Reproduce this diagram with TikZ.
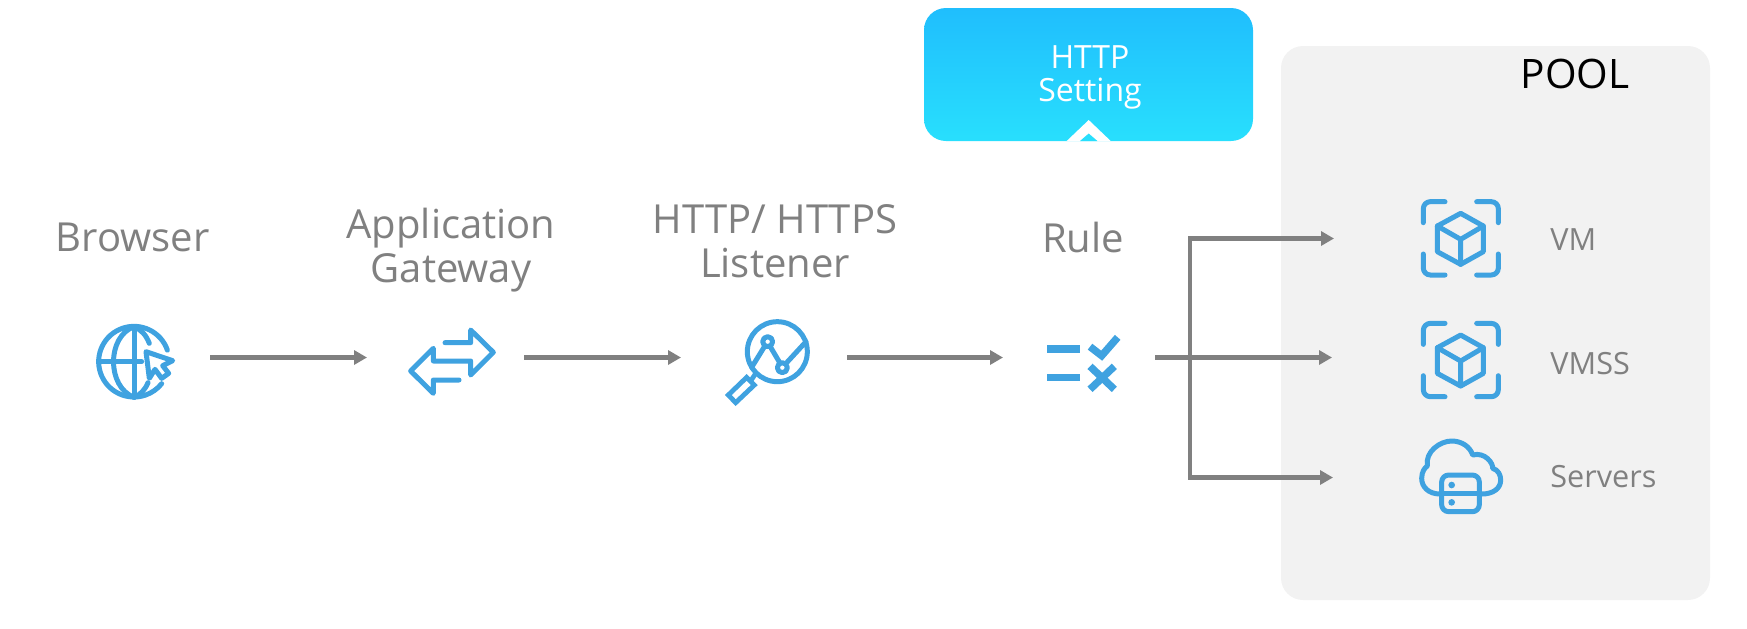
\documentclass[tikz,border=0pt]{standalone}
\usepackage{fontspec}
\setmainfont{Open Sans}
\usetikzlibrary{arrows.meta}
\definecolor{ink}{HTML}{808080}
\definecolor{ico}{HTML}{3FA2E0}
\definecolor{poolbg}{HTML}{F2F2F2}
\definecolor{topblue}{HTML}{20BEFD}
\definecolor{lowblue}{HTML}{28DFFD}
\tikzset{
  anchorbox/.style={inner sep=0pt,outer sep=0pt,minimum height=60pt,minimum width=#1},
  biglabel/.style={text=ink,font=\fontsize{20}{21.8}\selectfont,align=center,inner sep=0pt},
  smalllabel/.style={text=ink,font=\fontsize{15.3}{17}\selectfont,anchor=west,inner sep=0pt},
  flow/.style={draw=ink,line width=2.2pt,-{Triangle[length=6.5pt,width=7pt]}},
  iconline/.style={draw=ico,line width=2.5pt,line cap=round,line join=round},
  iconsharp/.style={draw=ico,line width=2.4pt,line cap=butt,line join=miter},
  iconbar/.style={draw=ico,line width=3.7pt,line cap=butt,line join=miter},
  zoomgrid/.style={shift={(#1)},x=0.16667pt,y=-0.16667pt},
}
\newcommand{\cubeicon}{%
  \draw[iconline,rounded corners=3.5pt] (130,128)--(130,65)--(195,65);
  \draw[iconline,rounded corners=3.5pt] (290,65)--(355,65)--(355,128);
  \draw[iconline,rounded corners=3.5pt] (130,222)--(130,285)--(195,285);
  \draw[iconline,rounded corners=3.5pt] (290,285)--(355,285)--(355,222);
  \draw[iconline] (242,100)--(310,138)--(310,215)--(242,253)--(172,215)--(172,138)--cycle;
  \draw[iconline] (172,138)--(242,178)--(310,138) (242,178)--(242,253);
}
\begin{document}
\begin{tikzpicture}[x=0.5pt,y=-0.5pt]
\useasboundingbox (0,0) rectangle (1747,628);
% pool panel
\node[fill=poolbg,rounded corners=11pt,inner sep=0pt,minimum width=214.5pt,minimum height=277pt] (pool) at (1495.5,323) {};
\node[inner sep=0pt,font=\fontsize{20.3}{22}\selectfont,text=black] (pooltitle) at (1575,73.5) {POOL};
% http setting box
\node[top color=topblue,bottom color=lowblue,rounded corners=11pt,inner sep=0pt,minimum width=164.5pt,minimum height=66.5pt] (setting) at (1088.5,74.5) {};
\node[inner sep=0pt,text=white,align=center,font=\fontsize{16}{16.5}\selectfont] (settingtext) at (1090,77.5) {HTTP\\Setting};
\fill[white] (1066.7,141)--(1088.7,120)--(1110.7,141)--cycle;
\fill[lowblue] (1080,141)--(1088.7,133.5)--(1097.4,141)--cycle;
% labels
\node[biglabel] (lbrowser) at (132.6,237) {Browser};
\node[biglabel] (lgateway) at (451,250) {Application\\Gateway};
\node[biglabel] (llistener) at (775,241.5) {HTTP/ HTTPS\\Listener};
\node[biglabel] (lrule) at (1083,237) {Rule};
\node[smalllabel] (lvm) at (1550,240) {VM};
\node[smalllabel] (lvmss) at (1550,364) {VMSS};
\node[smalllabel] (lservers) at (1550,477) {Servers};
% connector anchors around the icons
\node[anchorbox=75pt] (browser) at (135,357.5) {};
\node[anchorbox=78.5pt] (gateway) at (445.5,357.5) {};
\node[anchorbox=83pt] (listener) at (764,357.5) {};
\node[anchorbox=76pt] (rule) at (1079,357.5) {};
\node[anchorbox=127pt] (vm) at (1461,238.5) {};
\node[anchorbox=127pt] (vmss) at (1459,357.5) {};
\node[anchorbox=127pt] (servers) at (1460,477.5) {};
\coordinate (fork) at (1190,357.5);
\draw[flow] (browser.east) -- (gateway.west);
\draw[flow] (gateway.east) -- (listener.west);
\draw[flow] (listener.east) -- (rule.west);
\draw[flow] (rule.east) -- (vmss.west);
\draw[flow] (fork) |- (vm.west);
\draw[flow] (fork) |- (servers.west);
% globe icon
\begin{scope}[zoomgrid={60,290}]
  \draw[iconline] (222,215) ++(-19:106) arc[start angle=-19,end angle=-321.5,radius=106];
  \draw[iconline] (222,110)--(222,322);
  \draw[iconline] (116,215)--(245,215);
  \draw[iconline] (222,110) .. controls (140,140) and (140,290) .. (222,322);
  \draw[iconline] (222,110) .. controls (245,120) and (258,135) .. (268,160);
  \draw[iconline] (222,322) .. controls (240,315) and (255,300) .. (264,278);
  \draw[iconline] (258,185)--(338,212)--(308,227)--(326,250)--(305,265)--(285,238)--(268,265)--cycle;
\end{scope}
% gateway icon
\begin{scope}[zoomgrid={60,290}]
  \draw[iconline] (1155,158)--(1232,158)--(1232,120)--(1300,187)--(1232,255)--(1232,213)--(1120,213)--(1120,175)--(1052,243)--(1120,310)--(1120,270)--(1197,270);
\end{scope}
% listener icon
\begin{scope}[zoomgrid={700,290}]
  \draw[iconline] (232,185) circle[radius=90];
  \draw[iconsharp] (85,315)--(140,262)--(163,285)--(107,338)--cycle;
  \draw[iconsharp] (152,273)--(168,249);
  \draw[iconline] (155,232)--(192,172);
  \draw[iconline] (212,172)--(238,216);
  \draw[iconline] (260,218)--(318,155);
  \draw[iconline] (203,155) circle[radius=15];
  \draw[iconline] (247,233) circle[radius=15];
\end{scope}
% rule icon
\begin{scope}[zoomgrid={700,290}]
  \draw[iconbar] (1042,177)--(1140,177);
  \draw[iconbar] (1042,262)--(1140,262);
  \draw[iconbar] (1170,170)--(1205,197)--(1253,142);
  \draw[iconbar] (1170,229)--(1243,298);
  \draw[iconbar] (1243,229)--(1170,298);
\end{scope}
% vm and vmss icons
\begin{scope}[zoomgrid={1380,180}] \cubeicon \end{scope}
\begin{scope}[zoomgrid={1380,301.7}] \cubeicon \end{scope}
% servers icon
\begin{scope}[zoomgrid={1380,180}]
  \draw[iconline] (180,942) .. controls (145,942) and (125,920) .. (125,895)
     .. controls (125,875) and (135,862) .. (142,858)
     .. controls (135,815) and (180,783) .. (215,783)
     .. controls (245,783) and (270,800) .. (278,825)
     .. controls (315,815) and (340,850) .. (338,865)
     .. controls (355,870) and (362,885) .. (362,900)
     .. controls (362,925) and (340,942) .. (305,942);
  \draw[iconline,rounded corners=3.5pt] (185,885) rectangle (298,995);
  \draw[iconline] (185,940)--(298,940);
  \fill[ico] (215,915) circle[radius=10];
  \fill[ico] (215,967) circle[radius=10];
\end{scope}
\end{tikzpicture}
\end{document}
